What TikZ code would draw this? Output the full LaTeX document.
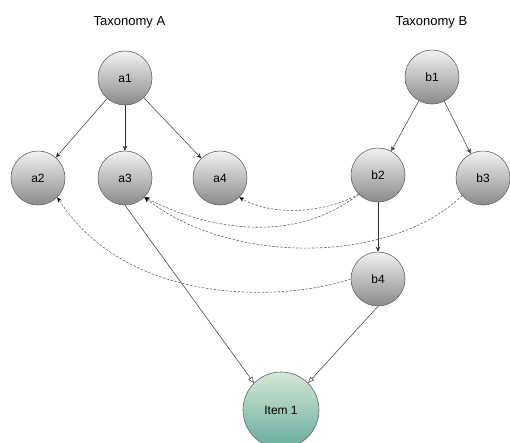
\documentclass[tikz,border=0pt]{standalone}
\usepackage{fontspec}
\setmainfont{Liberation Sans}
\usetikzlibrary{arrows.meta}
\definecolor{strk}{HTML}{666666}
\definecolor{edge}{HTML}{333333}
\definecolor{dedge}{HTML}{666666}
\definecolor{gtop}{HTML}{F2F2F2}
\definecolor{gbot}{HTML}{8A8A8A}
\definecolor{itop}{HTML}{D5E8D4}
\definecolor{ibot}{HTML}{67AB9F}
\tikzset{
  gnode/.style={circle, draw=strk, line width=0.6pt, minimum size=54pt, inner sep=0pt,
    top color=gtop, bottom color=gbot, font=\fontsize{12}{14}\selectfont},
  inode/.style={circle, draw=strk, line width=0.6pt, minimum size=76pt, inner sep=0pt,
    top color=itop, bottom color=ibot, font=\fontsize{12}{14}\selectfont},
  title/.style={font=\fontsize{13}{15}\selectfont, inner sep=0pt},
  tree/.style={draw=edge, line width=0.5pt, -{Stealth[length=5pt,width=4.5pt]}},
  link/.style={draw=dedge, line width=0.6pt, dash pattern=on 2.5pt off 1.5pt, -{Stealth[length=5pt,width=4.5pt,color=black]}},
  inst/.style={draw=edge, line width=0.5pt, -{Triangle[open,length=6pt,width=5pt]}}
}
\begin{document}
\begin{tikzpicture}[x=1pt,y=-1pt]
\useasboundingbox (0,0) rectangle (510,442);
\clip (0,0) rectangle (510,442);
\node[title] (ta) at (129.5,22) {Taxonomy A};
\node[title] (tb) at (431.5,22) {Taxonomy B};
\node[gnode] (a1) at (125,78) {a1};
\node[gnode] (a2) at (38,178) {a2};
\node[gnode] (a3) at (125,178) {a3};
\node[gnode] (a4) at (220,178) {a4};
\node[gnode] (b1) at (432,77) {b1};
\node[gnode] (b2) at (378,175) {b2};
\node[gnode] (b3) at (483,178) {b3};
\node[gnode] (b4) at (378,279) {b4};
\node[inode] (it) at (281,410) {Item 1};
\draw[tree] (a1) -- (a2);
\draw[tree] (a1) -- (a3);
\draw[tree] (a1) -- (a4);
\draw[tree] (b1) -- (b2);
\draw[tree] (b1) -- (b3);
\draw[tree] (b2) -- (b4);
\draw[inst] (a3.south) -- (it.135);
\draw[inst] (b4.south) -- (it.45);
\draw[link] (b2.225) .. controls (320,215) and (270,215) .. (a4.-45);
\draw[link] (b2.225) .. controls (300,240) and (220,235) .. (a3.-45);
\draw[link] (b3.220) .. controls (390,265) and (230,265) .. (a3.-45);
\draw[link] (b4.180) .. controls (290,300) and (130,310) .. (a2.-45);
\end{tikzpicture}
\end{document}
